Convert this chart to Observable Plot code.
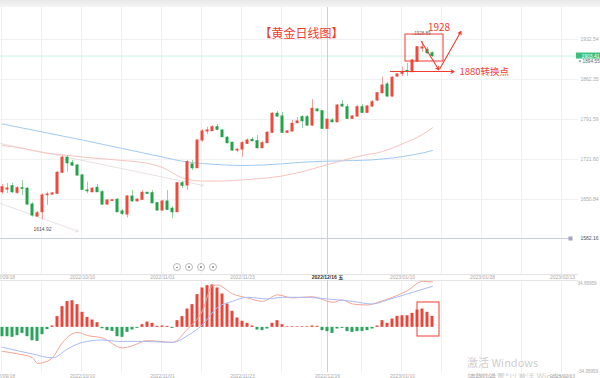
<!DOCTYPE html>
<html><head><meta charset="utf-8">
<script src="https://cdn.jsdelivr.net/npm/d3@7"></script>
<script src="https://cdn.jsdelivr.net/npm/@observablehq/plot@0.6"></script>
<style>
body{margin:0;background:#fff;}
#wrap{position:relative;width:600px;height:378px;overflow:hidden;background:#fff;}
#c1,#c2{display:block;line-height:0;}
.topbar{position:absolute;left:0;top:0;width:600px;height:7px;background:linear-gradient(#e8e8e8,#f5f5f5);}
.btns{position:absolute;left:173px;top:263px;display:flex;gap:4px;}
.btns span{display:block;width:6px;height:6px;border:0.8px solid #b8b8b8;border-radius:50%;position:relative;background:#fff;}
.btns span i{position:absolute;left:1.6px;top:2.6px;width:2.8px;height:0.8px;background:#999;}
.btns span b{position:absolute;left:1.8px;top:1.8px;width:2.4px;height:2.4px;background:#999;border-radius:0.5px;}
.wm{position:absolute;left:467px;top:356px;font-family:"Noto Sans CJK SC","Noto Sans",sans-serif;color:rgba(170,170,170,0.6);font-size:11px;line-height:13px;white-space:nowrap;}
.wm small{display:block;font-size:8.5px;line-height:10px;margin-top:2px;}
</style></head>
<body><div id="wrap"><div id="c1"></div><div id="c2"></div><div class="topbar"></div>
<div class="btns"><span><i></i></span><span><b></b></span><span><b></b></span><span><b></b></span></div>
<div class="wm">激活 Windows<small>转到"设置"以激活 Windows。</small></div>
</div>
<script>
// ---------- data ----------
const open = [
1663.7,1668.4,1674.2,1662.6,1670.7,1669.7,1642.0,1620.9,1628.5,1658.4,
1659.6,1660.9,1697.8,1724.3,1714.7,1710.7,1693.1,1666.7,1663.7,1671.4,
1663.7,1642.0,1648.4,1650.3,1629.7,1624.4,1656.1,1647.8,1650.3,1662.6,
1661.9,1644.3,1631.5,1647.3,1634.5,1628.5,1679.5,1675.5,1712.5,1705.9,
1754.7,1770.6,1771.1,1778.1,1772.3,1759.5,1750.7,1737.1,1738.9,1748.9,
1755.9,1753.5,1741.2,1750.0,1768.3,1801.7,1797.0,1768.3,1770.6,1785.2,
1795.7,1795.7,1781.1,1809.3,1806.3,1775.3,1789.9,1786.9,1817.6,1813.3,
1792.9,1797.0,1813.3,1803.5,1814.6,1825.1,1838.0,1853.3,1832.2,1867.4,
1872.1,1877.1,1875.0,1893.8,1916.7,1914.4,1908.4];
const close = [
1672.5,1670.2,1663.7,1670.7,1669.7,1642.0,1622.7,1626.7,1657.9,1659.6,
1661.4,1697.8,1724.3,1714.7,1710.7,1693.1,1667.9,1665.4,1669.7,1663.7,
1642.0,1649.1,1649.4,1628.5,1625.7,1656.1,1647.8,1650.3,1662.6,1660.9,
1644.3,1631.5,1647.3,1632.7,1628.5,1679.5,1675.0,1716.5,1705.9,1754.7,
1770.6,1772.3,1778.1,1773.6,1760.5,1750.0,1737.1,1738.3,1750.0,1754.7,
1753.5,1741.2,1750.0,1768.3,1801.7,1797.0,1768.3,1770.6,1784.1,1788.2,
1788.7,1781.1,1810.5,1806.3,1775.3,1791.2,1786.9,1816.3,1814.6,1792.9,
1797.0,1813.3,1803.5,1814.6,1822.1,1838.0,1851.5,1832.2,1865.1,1870.9,
1875.0,1875.8,1895.6,1919.0,1918.5,1908.4,1903.41];
const high = [
1677.2,1679.0,1679.5,1673.7,1684.3,1672.0,1645.6,1629.7,1661.4,1663.7,
1663.2,1700.1,1728.3,1728.3,1719.5,1712.5,1694.9,1681.3,1672.0,1677.2,
1666.7,1650.8,1650.8,1652.6,1633.2,1657.9,1666.7,1652.6,1666.7,1663.7,
1666.7,1645.6,1649.1,1666.7,1638.5,1680.8,1682.5,1719.5,1719.5,1755.9,
1774.1,1778.1,1781.1,1782.9,1774.1,1761.8,1751.7,1740.6,1753.0,1757.7,
1760.0,1763.5,1753.0,1770.6,1804.0,1805.8,1804.0,1772.3,1789.9,1795.2,
1798.7,1798.7,1826.9,1811.1,1807.5,1793.5,1793.5,1818.1,1825.1,1818.1,
1798.7,1816.3,1818.1,1816.3,1825.1,1839.2,1866.2,1856.8,1867.4,1872.7,
1883.8,1890.3,1897.3,1920.2,1928.89,1918.5,1910.5];
const low = [
1659.6,1661.4,1661.4,1659.6,1657.9,1640.3,1619.7,1619.1,1614.92,1640.3,
1658.8,1659.6,1696.6,1698.9,1708.9,1691.3,1666.7,1660.9,1662.6,1663.2,
1640.3,1640.3,1647.3,1627.9,1622.7,1618.6,1645.6,1646.1,1649.1,1659.6,
1643.3,1630.2,1629.7,1631.5,1616.9,1627.9,1670.2,1666.7,1701.9,1705.4,
1751.7,1764.8,1770.6,1772.3,1760.0,1748.9,1735.9,1733.1,1725.3,1747.7,
1752.4,1740.1,1740.6,1749.4,1767.0,1795.2,1767.0,1767.0,1769.3,1784.1,
1775.8,1779.4,1779.4,1805.2,1774.1,1774.1,1786.4,1785.9,1812.8,1791.7,
1791.7,1795.7,1802.3,1802.3,1812.8,1823.4,1836.9,1830.4,1830.9,1865.6,
1867.4,1867.4,1874.4,1892.0,1909.6,1907.0,1900.9];

const maIdx  = [0,4,8,12,16,20,24,28,32,36,40,44,48,52,56,60,64,68,72,76,80,84,86];
const maBlue = [1783.8,1776.7,1769.7,1762.6,1755.6,1748.0,1740.6,1733.1,1725.6,1718.1,1714.2,1711.9,1710.7,1711.6,1713.7,1716.5,1718.1,1719.0,1719.8,1722.1,1726.5,1732.7,1737.1];
const maPink = [1745.9,1741.0,1733.6,1729.5,1725.6,1722.5,1719.5,1716.0,1707.2,1688.7,1683.4,1683.4,1685.5,1688.0,1692.4,1699.9,1709.8,1719.5,1728.3,1735.3,1748.9,1765.3,1777.1];

const macdHist = [
-7.4,-7.4,-7.9,-6.6,-4.8,-7.4,-10.6,-11.1,-5.8,-1.8,
1.1,8.5,16.4,20.4,21.1,18.0,11.9,7.9,5.8,3.7,
-1.1,-2.6,-3.2,-7.4,-7.9,-4.0,-2.1,-0.8,2.1,4.2,
3.2,0.8,1.1,0.8,-0.8,5.3,8.5,14.5,18.0,25.9,
31.2,33.0,33.6,31.2,26.4,18.5,12.7,7.4,4.8,3.2,
1.1,-2.1,-2.6,-1.3,3.2,5.3,2.1,0.5,0.5,0.5,
0.5,0.5,1.1,0.8,-2.6,-3.4,-4.8,-1.3,-0.8,-3.4,
-4.0,-3.4,-3.2,-2.6,-1.3,1.1,5.3,3.2,6.6,8.7,
9.2,9.2,11.1,13.7,14.5,11.9,8.7];
const difIdx = [0,3,6,7,8,10,12,15,17,20,24,26,29,34,37,40,42,43,46,49,52,55,58,60,62,66,68,70,73,75,78,81,84,86];
const difVal = [-19.0,-21.0,-24.0,-28.5,-28.0,-24.0,-12.0,-4.0,-6.5,-8.4,-16.3,-14.5,-10.5,-11.9,-1.3,13.2,33.0,33.5,26.5,23.3,20.6,25.7,23.3,23.8,24.3,19.8,21.7,18.5,17.7,19.8,23.8,29.1,36.4,36.0];
const deaIdx = [0,6,10,13,16,20,23,28,34,37,40,43,46,49,53,56,60,65,70,74,77,81,86];
const deaVal = [-15.8,-21.1,-24.2,-17.1,-11.9,-10.0,-11.1,-11.1,-11.9,-6.6,2.1,15.8,20.6,23.8,22.5,23.8,23.8,22.5,20.6,18.5,21.7,26.5,32.5];

const priceTicks = [1650.84,1721.60,1791.59,1862.35,1932.54,2003.12];
const lastPrice = 1903.41, bidPrice = 1894.55, lowLinePrice = 1582.16;
const macdTicks = [34.95959,-34.95959];
const dateTickIdx = [0,16,32,48,80,96,112];
const dateTickLabels = ["2022/09/18","2022/10/10","2022/11/01","2022/11/23","2023/01/10","2023/01/28","2023/02/13"];
const crossIdx = 65, crossLabel = "2022/12/16 五", crossShort = "2022/12/16";
const titleText = "【黄金日线图】", targetText = "1928", pivotText = "1880转换点";

// ---------- build ----------
const FONT = "'Liberation Sans','Noto Sans CJK SC',sans-serif";
const CJK = "'Noto Sans CJK SC','Liberation Sans',sans-serif";
const RED = "#f23b2f";
const candles = open.map((o,i)=>({i,o,c:close[i],h:high[i],l:low[i]}));
const up = candles.filter(d=>d.c>=d.o), dn = candles.filter(d=>d.c<d.o);
const ma = maIdx.map((i,k)=>({i,blue:maBlue[k],pink:maPink[k]}));
const hist = macdHist.map((v,i)=>({i,v}));
const dif = difIdx.map((i,k)=>({i,v:difVal[k]}));
const dea = deaIdx.map((i,k)=>({i,v:deaVal[k]}));
const vGrid = d3.range(0,15).map(k=>8*k-0.2);
const xDom = [-0.4,115.2];
const labelMap = new Map(dateTickIdx.map((d,k)=>[d,dateTickLabels[k]]));
const hiIdx = d3.maxIndex(high), loIdx = d3.minIndex(low);

const main = Plot.plot({
  width:600, height:280, marginTop:0, marginBottom:6, marginLeft:0, marginRight:22,
  x:{domain:xDom}, y:{domain:[1518.8,2001.21]},
  style:{fontFamily:FONT, background:"transparent", overflow:"hidden"},
  marks:[
    Plot.ruleX(vGrid,{stroke:"#f0f0f0"}),
    Plot.ruleY(priceTicks,{stroke:"#f0f0f0"}),
    Plot.ruleY([lastPrice],{stroke:"#cdeee2"}),
    Plot.ruleY([lowLinePrice],{stroke:"#c9cce0", x1:xDom[0], x2:113.6}),
    Plot.ruleY([1518.8],{stroke:"#e4e4e4"}),
    Plot.ruleX([crossIdx],{stroke:"#cfcfcf"}),
    Plot.arrow([{x1:-0.4,y1:1749.4,x2:40.2,y2:1675.5},{x1:-0.4,y1:1643.8,x2:15.2,y2:1594.5}],
      {x1:"x1",y1:"y1",x2:"x2",y2:"y2",stroke:"#e6dede",strokeWidth:0.9,headLength:5}),
    Plot.line(ma,{x:"i",y:"blue",stroke:"#9fcaf2",strokeWidth:1,curve:"monotone-x"}),
    Plot.line(ma,{x:"i",y:"pink",stroke:"#f8c3bf",strokeWidth:1,curve:"monotone-x"}),
    Plot.ruleX(up,{x:"i",y1:"l",y2:"h",stroke:"#f2a39c"}),
    Plot.ruleX(dn,{x:"i",y1:"l",y2:"h",stroke:"#94d4a3"}),
    Plot.rect(up,{x1:d=>d.i-0.3,x2:d=>d.i+0.3,y1:"o",y2:"c",fill:"#eb4a3c",insetTop:-0.5,insetBottom:-0.5}),
    Plot.rect(dn,{x1:d=>d.i-0.3,x2:d=>d.i+0.3,y1:"o",y2:"c",fill:"#22a34a",insetTop:-0.5,insetBottom:-0.5}),
    // extreme labels
    Plot.text([hiIdx],{x:d=>d,y:d=>high[d],text:d=>high[d].toFixed(2),dy:-8,fontSize:4.5,fill:"#666"}),
    Plot.text([loIdx],{x:d=>d,y:d=>low[d],text:d=>low[d].toFixed(2),dy:9,fontSize:5,fill:"#555"}),
    // annotations
    Plot.text([titleText],{x:59.8,y:1941.3,text:d=>d,fontSize:12,fill:RED,fontFamily:CJK}),
    Plot.rect([0],{x1:80.6,x2:88.2,y1:1893.8,y2:1941.3,fill:"none",stroke:RED,strokeWidth:1}),
    Plot.arrow([{x1:83.74,y1:1929.5,x2:87.26,y2:1879.2},{x1:87.46,y1:1880.9,x2:91.7,y2:1946.6},{x1:77.6,y1:1876.2,x2:90.3,y2:1876.2}],
      {x1:"x1",y1:"y1",x2:"x2",y2:"y2",stroke:RED,strokeWidth:1.1,headLength:4.5}),
    Plot.text([targetText],{x:87.3,y:1953.7,text:d=>d,fontSize:10,fill:RED,fontFamily:CJK}),
    Plot.text([pivotText],{x:91.4,y:1876.2,text:d=>d,fontSize:9.5,fill:RED,textAnchor:"start",fontFamily:CJK}),
    // right axis
    Plot.axisY(priceTicks,{anchor:"right",tickSize:0,tickPadding:2,fontSize:5,fill:"#aaa",tickFormat:d=>d.toFixed(2),label:null}),
    Plot.rect([lastPrice],{x1:114.8,x2:120,y1:d=>d,y2:d=>d,insetTop:-3,insetBottom:-3,fill:"#3cbf7c"}),
    Plot.text([lastPrice],{y:d=>d,text:d=>d.toFixed(2),frameAnchor:"right",dx:3,textAnchor:"start",fill:"#fff",fontSize:5}),
    Plot.dot([bidPrice],{y:d=>d,frameAnchor:"right",dx:1.5,r:1.2,fill:"#aaa"}),
    Plot.text([bidPrice],{y:d=>d,text:d=>d.toFixed(2),frameAnchor:"right",dx:4,textAnchor:"start",fill:"#666",fontSize:4.8}),
    Plot.dot([lowLinePrice],{x:113.6,y:d=>d,symbol:"square",r:2.3,fill:"#a3a8c4"}),
    Plot.text([lowLinePrice],{y:d=>d,text:d=>d.toFixed(2),frameAnchor:"right",dx:2,textAnchor:"start",fill:"#555",fontSize:5}),
    // date axis
    Plot.axisX(dateTickIdx,{anchor:"bottom",tickSize:0,tickPadding:0.5,fontSize:5,fill:"#aaa",tickFormat:d=>labelMap.get(d),label:null}),
    Plot.text([crossIdx],{x:d=>d,text:[crossLabel],frameAnchor:"bottom",lineAnchor:"top",dy:0.5,fontSize:5,fontWeight:"bold",fill:"#333"})
  ]
});
document.getElementById("c1").appendChild(main);

const macdLabelIdx = [0,16,32,48,65,80,96,112];
const macdLabelMap = new Map([...labelMap, [crossIdx, crossShort]]);
const macd = Plot.plot({
  width:600, height:98, marginTop:0, marginBottom:6, marginLeft:0, marginRight:22,
  x:{domain:xDom}, y:{domain:[-35.75,37.1]},
  style:{fontFamily:FONT, background:"transparent", overflow:"hidden"},
  marks:[
    Plot.ruleX(vGrid,{stroke:"#f0f0f0"}),
    Plot.ruleY([37.1],{stroke:"#e4e4e4"}),
    Plot.ruleX([crossIdx],{stroke:"#cfcfcf"}),
    Plot.rect(hist.filter(d=>d.v>=0),{x1:d=>d.i-0.3,x2:d=>d.i+0.3,y1:0,y2:"v",fill:"#e8463a"}),
    Plot.rect(hist.filter(d=>d.v<0),{x1:d=>d.i-0.3,x2:d=>d.i+0.3,y1:0,y2:"v",fill:"#2aa35c"}),
    Plot.line(dif,{x:"i",y:"v",stroke:"#f4a493",strokeWidth:1,curve:"monotone-x"}),
    Plot.line(dea,{x:"i",y:"v",stroke:"#a8bbf6",strokeWidth:1,curve:"monotone-x"}),
    Plot.rect([0],{x1:83.0,x2:87.4,y1:-7.25,y2:19.7,fill:"none",stroke:RED,strokeWidth:1}),
    Plot.axisY(macdTicks,{anchor:"right",tickSize:0,tickPadding:-1,fontSize:4.6,fill:"#aaa",tickFormat:d=>String(d),label:null}),
    Plot.axisX(macdLabelIdx,{anchor:"bottom",tickSize:0,tickPadding:1.5,fontSize:5,fill:"#aaa",tickFormat:d=>macdLabelMap.get(d),label:null})
  ]
});
document.getElementById("c2").appendChild(macd);
</script>
</body></html>
